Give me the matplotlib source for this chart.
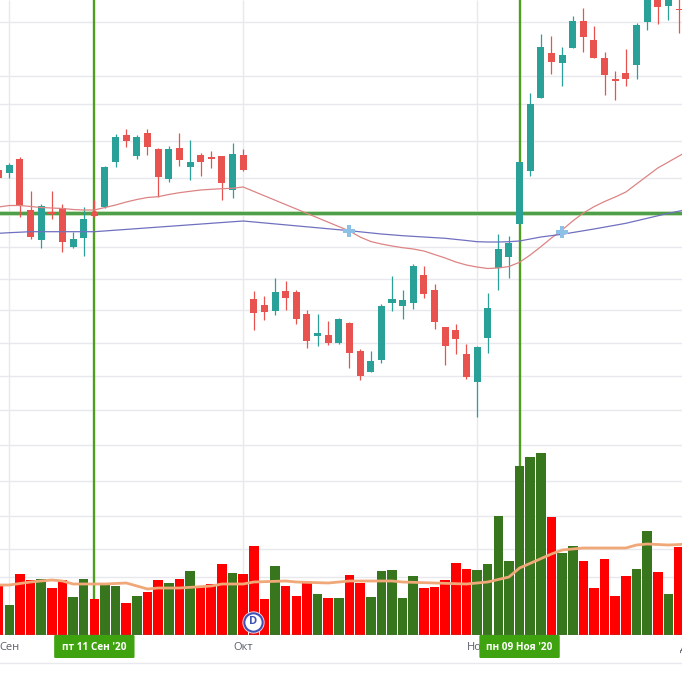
import matplotlib
matplotlib.use("Agg")
import matplotlib.pyplot as plt
from matplotlib.patches import FancyBboxPatch

W, H = 682, 677
plt.rcParams['font.family'] = ['Open Sans', 'DejaVu Sans']

# Daily sessions counted from the first trading day of September
first_session = -1
opens = [507,504,518,467,437,465,469,430,439,465,470,515,542,521,544,528,498,529,510,522,520,521,487,522,
         378,372,366,386,385,363,341,342,334,354,326,305,317,374,371,374,402,387,350,347,323,295,339,409,420,
         453,506,579,624,614,629,656,637,619,598,604,612,655,685,671,668]
highs = [509,514,520,486,473,486,473,445,470,477,511,543,548,542,548,529,531,544,537,524,526,521,534,528,
         386,381,399,396,387,367,363,356,359,355,328,326,373,401,387,413,411,393,350,353,333,331,384,443,441,
         515,584,643,641,630,661,669,651,625,606,628,654,689,687,687,682]
lows = [497,499,460,438,429,458,425,429,421,460,469,510,530,518,522,480,495,511,497,501,509,477,479,506,
        347,357,362,367,353,329,331,332,333,309,297,305,314,366,358,368,379,348,312,323,298,260,324,387,399,
        453,501,579,603,591,629,625,619,582,577,591,598,647,653,657,644]
closes = [499,512,472,440,471,463,435,438,458,461,510,540,536,540,530,500,528,517,515,515,518,494,523,507,
          364,365,385,379,358,336,344,334,358,324,301,316,371,378,377,411,383,355,331,338,300,330,369,428,434,
          515,573,630,615,622,656,640,619,602,596,598,652,687,670,685,667]

# Volume per session and the direction it is coloured by
volumes = [49,30,61,55,56,47,55,38,56,36,50,49,32,39,43,55,52,56,64,48,51,71,62,61,
           89,36,69,49,39,53,41,37,37,60,52,38,64,65,37,59,47,48,55,72,66,65,71,119,74,
           169,178,182,118,82,89,74,47,76,39,59,66,104,63,41,88]
volume_up = [0,1,0,0,1,0,0,1,1,0,1,1,0,1,0,0,1,0,1,0,0,0,1,0,
             0,0,1,0,0,0,1,0,1,0,0,1,1,1,1,1,0,0,0,0,0,1,1,1,1,
             1,1,1,0,1,1,0,0,0,0,0,1,1,0,1,0]
volume_first_session = -1

# Moving averages, given at the sessions where they were sampled
fast_ma_x = [-1,0,1,2,3,4,5,6,7,8,9,10,11,12,13,14,15,16,17,18,19,20,21,22,
             32,33,34,35,36,37,38,39,40,41,42,43,44,45,46,47,48,49,50,51,52,53,54,55,56,57,58,59,60,61,62,63,64]
fast_ma = [470,471.5,471.5,470.5,469.5,469,468.5,467.5,467,467,469.5,472,475,477.5,479.5,480.3,482.5,484.3,485.7,487,487.7,488.3,488.7,490,
           446,440,435.5,433,431,429.3,428,426,422.5,419,415,412,410,408.5,409,410.5,414.7,422,430.3,439,447,456,464,470.3,475.5,480,485,493,501,509,515,521,527]
slow_ma_x = [-1,0,2,8,22,32,35,37,39,41,43,44,45,46,47,48,50,52,55,58,62,64]
slow_ma = [443.7,444.3,445.3,445.3,456,446.3,443,441.3,440,438.7,436.5,435.3,435,435,435.3,436,440,442.7,448,453.7,463.7,468]
volume_ma_x = [-1,0,2,4,5,6,8,9,11,12,13,14,16,19,20,22,23,26,27,30,31,32,36,37,40,43,45,47,48,51,52,54,58,59,60,62,64]
volume_ma = [50,50,53,55,54,51,51,51,52,49,46,47,47,49,51,51,53,54,53,52,53,54,54,53,52,51,53,58,67,81,85,87,87,90,91,90,91]

# Session positions of the crosshair readings and the month boundaries
cross_sessions = [8, 48]
cross_labels = ["пт 11 Сен '20", "пн 09 Ноя '20"]
cross_level = 464
month_sessions = [0, 22, 44, 64]
month_labels = ['Сен', 'Окт', 'Ноя', 'Дек']
signal_sessions = [32, 52]
signal_levels = [446, 445]
dividend_session = 22.9
price_grid = [655.3,600.7,572.7,535.7,498.7,430.5,398.2,367,333.7,301,266.7,232,196.3,160.7,128,100.3,13.7]

UP, DOWN = '#2aa198', '#e9534f'
VOL_UP, VOL_DOWN = '#38761d', '#ff0000'
CROSS = '#4f9e1f'
GRID = '#e7e9ee'

fig = plt.figure(figsize=(W / 100, H / 100), dpi=100, facecolor='white')
ax = fig.add_axes([0, 0, 1, 1])
ax.set_xlim(-0.875, 63.28)
ax.set_ylim(0, H)
ax.axis('off')

# Volume pane shares the session axis and sits on its own baseline
base = 42
vol = fig.add_axes([0, base / H, 1, 1 - base / H], sharex=ax)
vol.set_ylim(0, H - base)
vol.axis('off')
vol.patch.set_alpha(0)

ax.hlines(price_grid, -2, 65, color=GRID, lw=1, zorder=1)
ax.vlines(month_sessions[:3], base, H, color=GRID, lw=1, zorder=1)

# Crosshair sits beneath the candles and the volume bars
ax.hlines(cross_level, -2, 65, color='#cfe8c4', lw=3.6, zorder=2)
ax.hlines(cross_level, -2, 65, color='#4f9e4a', lw=2.3, zorder=2.1)
ax.vlines(cross_sessions, base, H, color=CROSS, lw=1.7, zorder=2.2)

sessions = [first_session + k for k in range(len(opens))]
for s, o, h, l, c in zip(sessions, opens, highs, lows, closes):
    col = UP if c >= o else DOWN
    ax.vlines(s, l, h, color=col, lw=0.9, zorder=3)
    ax.bar(s, abs(c - o), 0.66, bottom=min(o, c), color=col, lw=0, zorder=3.1)

ax.plot(fast_ma_x, fast_ma, color='#dd8484', lw=0.9, zorder=3.5)
ax.plot(slow_ma_x, slow_ma, color='#7070c0', lw=0.9, zorder=3.5)
ax.plot(signal_sessions, signal_levels, ls='none', marker='P', ms=8, color='#8cc0e6', mew=0, zorder=4)
ax.plot([cross_sessions[0]], [cross_level], ls='none', marker='o', ms=4, color='#e9534f', mew=0, zorder=4)

vol_sessions = [volume_first_session + k for k in range(len(volumes))]
vol.bar(vol_sessions, volumes, 0.9,
        color=[VOL_UP if u else VOL_DOWN for u in volume_up], lw=0, zorder=3)
vol.plot(volume_ma_x, volume_ma, color='#f0a878', lw=2.0, zorder=4)
vol.axhline(0, color='#666666', lw=1, zorder=5)

# Dividend badge
vol.plot([dividend_session], [13.3], ls='none', marker='o', ms=16, mfc='#f4d8e4', mec='none', zorder=6)
vol.plot([dividend_session], [13.3], ls='none', marker='o', ms=13.2, mfc='white', mec='#3f51b5', mew=1.5, zorder=6.1)
vol.text(dividend_session, 13, 'D', color='#3f51b5', ha='center', va='center',
         fontsize=8, fontweight='bold', zorder=6.2)

# Month names under the bars
for s, t in zip(month_sessions, month_labels):
    ax.text(s, 29, t, color='#5a5f6a', ha='center', va='center', fontsize=8, zorder=5)

# Crosshair date tags
for s, t in zip(cross_sessions, cross_labels):
    ax.add_patch(FancyBboxPatch((s - 3.78, 19), 7.56, 23,
                                boxstyle='round,pad=0,rounding_size=0.12',
                                fc='#3fa30f', ec='none', mutation_aspect=10, zorder=7))
    ax.text(s, 29, t, color='white', ha='center', va='center',
            fontsize=7.2, fontweight='bold', zorder=8)

fig.savefig('out.png', dpi=100, facecolor='white')
